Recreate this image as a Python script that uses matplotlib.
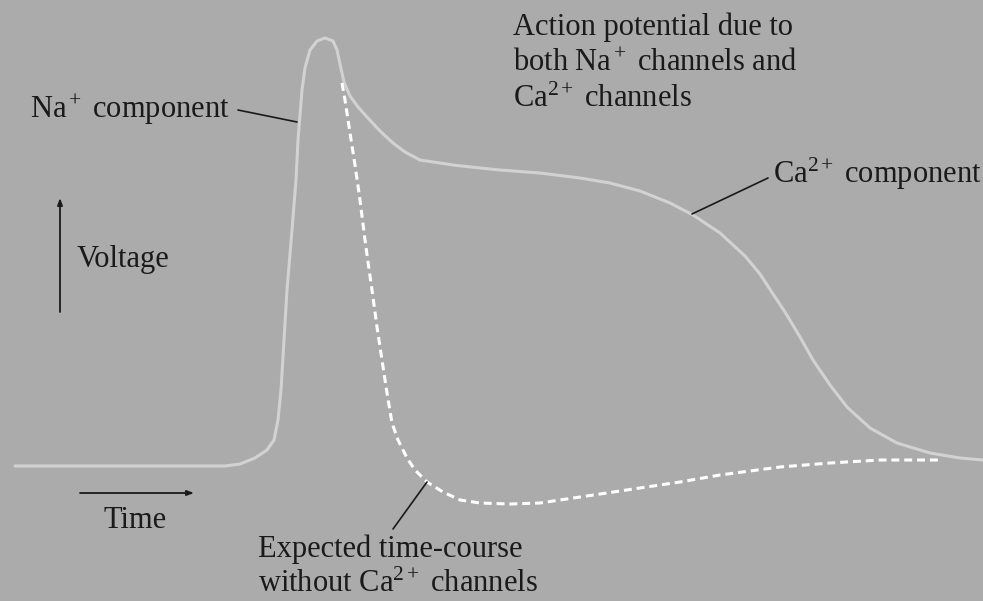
import matplotlib
matplotlib.use("Agg")
import matplotlib.pyplot as plt

# Solid trace: action potential with both Na+ and Ca2+ channels (arbitrary units)
TIME_FULL = [15, 120, 225, 240, 255, 267, 274, 278, 281, 284,
             287, 292, 296, 298, 300, 302, 305, 310, 317, 325,
             333, 337, 340, 344, 350, 358, 367, 380, 393, 405,
             420, 453, 480, 500, 540, 580, 610, 640, 670, 693,
             720, 745, 760, 773, 785, 800, 813, 830, 847, 870,
             897, 930, 960, 983]
VOLT_FULL = [135, 135, 135, 137, 143, 151, 161, 181, 211, 261,
             311, 371, 421, 461, 486, 511, 533, 551, 560, 563,
             560, 551, 537, 519, 505, 494, 484, 470, 458, 449,
             441, 436, 433, 431, 428, 423, 418, 410, 398, 386,
             368, 345, 327, 307, 289, 264, 241, 216, 194, 173,
             158, 148, 143, 141]

# Dashed trace: expected time-course without Ca2+ channels
TIME_NA = [342, 345, 350, 355, 360, 365, 368, 372, 377, 382,
           387, 392, 398, 407, 415, 427, 443, 460, 480, 510,
           540, 580, 620, 680, 720, 780, 830, 880, 940]
VOLT_NA = [518, 501, 468, 436, 401, 361, 339, 311, 274, 241,
           208, 178, 161, 143, 131, 119, 109, 101, 98, 97,
           98, 104, 110, 119, 126, 134, 138, 141, 141]

BG = "#ababab"
TXT = "#1a1a1a"

plt.rcParams["font.family"] = ["Liberation Serif", "DejaVu Serif"]
plt.rcParams["mathtext.fontset"] = "custom"
plt.rcParams["mathtext.rm"] = "Liberation Serif"
plt.rcParams["mathtext.it"] = "Liberation Serif:italic"

fig = plt.figure(figsize=(9.83, 6.01), dpi=100, facecolor=BG)
ax = fig.add_axes([0, 0, 1, 1])
ax.set_facecolor(BG)
ax.set_xlim(0, 983)
ax.set_ylim(0, 601)
ax.axis("off")

ax.plot(TIME_FULL, VOLT_FULL, color="#d2d2d2", lw=2.2, solid_joinstyle="round",
        solid_capstyle="round")
ax.plot(TIME_NA, VOLT_NA, color="white", lw=2.2, dashes=(2.6, 1.6))

fs = 22
leader = dict(arrowstyle="-", color=TXT, lw=1.2, shrinkA=0, shrinkB=0)
label_kw = dict(fontsize=fs, color=TXT, ha="left")

ax.text(30, 491, "Na$^+$ component", va="center", **label_kw)
ax.annotate("", xy=(297, 479), xytext=(238, 491), arrowprops=leader)

ax.text(513, 588, "Action potential due to\nboth Na$^+$ channels and\nCa$^{2+}$ channels",
        va="top", linespacing=1.3, **label_kw)

ax.text(773, 427, "Ca$^{2+}$ component", va="center", **label_kw)
ax.annotate("", xy=(692, 387), xytext=(768, 423), arrowprops=leader)

ax.text(258, 34, "Expected time-course\nwithout Ca$^{2+}$ channels", va="center",
        linespacing=1.25, **label_kw)
ax.annotate("", xy=(427, 119), xytext=(393, 72), arrowprops=leader)

# axis indicator arrows
head = "-|>,head_length=0.4,head_width=0.15"
ax.annotate("", xy=(60, 403), xytext=(60, 289),
            arrowprops=dict(arrowstyle=head, color=TXT, lw=1.3, shrinkA=0, shrinkB=0))
ax.text(77, 342, "Voltage", va="center", **label_kw)

ax.annotate("", xy=(194, 108), xytext=(80, 108),
            arrowprops=dict(arrowstyle=head, color=TXT, lw=1.3, shrinkA=0, shrinkB=0))
ax.text(103, 80, "Time", va="center", **label_kw)

fig.savefig("out.png", dpi=100, facecolor=BG)
